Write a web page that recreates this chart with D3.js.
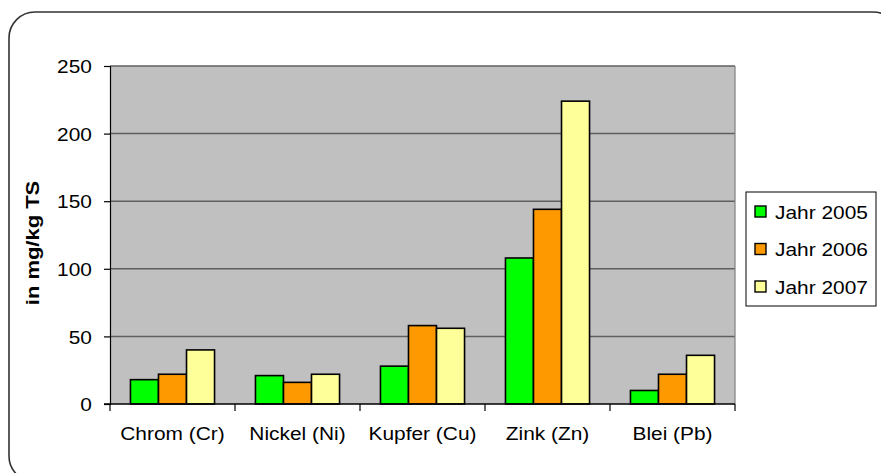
<!DOCTYPE html>
<html><head><meta charset="utf-8">
<script src="https://cdn.jsdelivr.net/npm/d3@7"></script>
<style>
body{margin:0;background:#fff;}
text{font-family:Arial,"Liberation Sans",sans-serif;fill:#000;}
</style></head>
<body><svg id="c" width="881" height="473"></svg>
<script>
const categories = ["Chrom (Cr)", "Nickel (Ni)", "Kupfer (Cu)", "Zink (Zn)", "Blei (Pb)"];
const seriesNames = ["Jahr 2005", "Jahr 2006", "Jahr 2007"];
const jahr2005 = [18, 21, 28, 108, 10];
const jahr2006 = [22, 16, 58, 144, 22];
const jahr2007 = [40, 22, 56, 224, 36];
const yTicks = [0, 50, 100, 150, 200, 250];
const colors = ["#00FF00", "#FF9900", "#FFFF99"];
const series = [jahr2005, jahr2006, jahr2007];

const svg = d3.select("#c");
const SX = 1.13;
// outer rounded border
svg.append("rect").attr("x", 9).attr("y", 12).attr("width", 890).attr("height", 470)
  .attr("rx", 26).attr("ry", 26).attr("fill", "#fff").attr("stroke", "#333").attr("stroke-width", 1.6);

const L = 110, R = 735, T = 66, B = 404;
const x = d3.scaleBand().domain(categories).range([L, R]).paddingInner(0).paddingOuter(0);
const y = d3.scaleLinear().domain([0, 250]).range([B, T]);
const xs = d3.scaleBand().domain(d3.range(3)).range([0, x.bandwidth()]).paddingOuter(0.73).paddingInner(0);

svg.append("rect").attr("x", L).attr("y", T).attr("width", R - L).attr("height", B - T).attr("fill", "#C0C0C0");
// gridlines
svg.append("g").selectAll("line").data(yTicks.filter(d => d > 0)).join("line")
  .attr("x1", L).attr("x2", R).attr("y1", d => y(d)).attr("y2", d => y(d))
  .attr("stroke", "#5f5f5f").attr("stroke-width", 1.5);
// right edge of plot
svg.append("line").attr("x1", R).attr("x2", R).attr("y1", T).attr("y2", B).attr("stroke", "#808080").attr("stroke-width", 1.2);

// bars
const g = svg.append("g");
categories.forEach((c, i) => {
  series.forEach((s, j) => {
    g.append("rect")
      .attr("x", x(c) + xs(j)).attr("y", y(s[i]))
      .attr("width", xs.bandwidth()).attr("height", y(0) - y(s[i]))
      .attr("fill", colors[j]).attr("stroke", "#000").attr("stroke-width", 1.6);
  });
});

// y axis
const ya = svg.append("g").attr("transform", `translate(${L},0)`)
  .call(d3.axisLeft(y).tickValues(yTicks).tickSize(6).tickPadding(10));
ya.select(".domain").attr("stroke", "#000").attr("stroke-width", 1.2);
ya.selectAll(".tick line").attr("stroke", "#000").attr("stroke-width", 1.2);
ya.selectAll(".tick text").attr("font-size", 18.5).attr("font-family", "Arial, 'Liberation Sans', sans-serif")
  .attr("transform", `scale(${SX},1)`).attr("dy", "0.36em");

// x axis
const xa = svg.append("g").attr("transform", `translate(0,${B})`)
  .call(d3.axisBottom(x).tickSize(0).tickPadding(23));
xa.select(".domain").remove();
xa.selectAll(".tick text").attr("font-size", 18.5).attr("font-family", "Arial, 'Liberation Sans', sans-serif")
  .attr("transform", `scale(${SX},1)`);
svg.append("line").attr("x1", L - 6).attr("x2", R).attr("y1", B).attr("y2", B).attr("stroke", "#000").attr("stroke-width", 1.4);
// category boundary ticks
svg.append("g").selectAll("line").data(d3.range(categories.length + 1)).join("line")
  .attr("x1", d => L + d * x.bandwidth()).attr("x2", d => L + d * x.bandwidth())
  .attr("y1", B).attr("y2", B + 7).attr("stroke", "#000").attr("stroke-width", 1.2);

// y title
svg.append("text").attr("transform", `translate(39,243) rotate(-90) scale(1.22,1)`)
  .attr("text-anchor", "middle").attr("font-size", 18).attr("font-weight", "bold").text("in mg/kg TS");

// legend
const lg = svg.append("g");
lg.append("rect").attr("x", 746).attr("y", 192).attr("width", 130).attr("height", 114)
  .attr("fill", "#fff").attr("stroke", "#000").attr("stroke-width", 1);
seriesNames.forEach((n, j) => {
  const cy = 212 + j * 37.5;
  lg.append("rect").attr("x", 755).attr("y", cy - 6).attr("width", 11).attr("height", 11)
    .attr("fill", colors[j]).attr("stroke", "#000").attr("stroke-width", 1.4);
  lg.append("text").attr("transform", `translate(775,${cy}) scale(${SX},1)`)
    .attr("dy", "0.36em").attr("font-size", 18.5).text(n);
});
</script></body></html>
